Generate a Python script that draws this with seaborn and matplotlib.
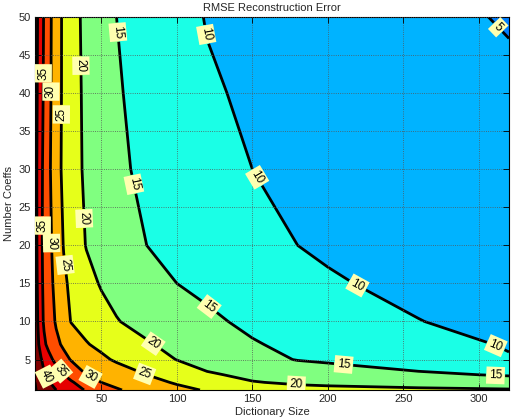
import matplotlib
matplotlib.use('Agg')
import matplotlib.pyplot as plt
from matplotlib.colors import ListedColormap, BoundaryNorm
import numpy as np
import seaborn as sns

sns.set_theme(style='white')
plt.rcParams['font.family'] = ['Liberation Sans', 'DejaVu Sans']

# grid
dict_size = [6, 8, 10, 12, 15, 20, 25, 30, 40, 50, 60, 80, 100, 120, 150, 180, 200, 260, 320]
n_coeffs = [1, 2, 3, 5, 7, 10, 15, 20, 30, 40, 50]
rmse = [
    [46.0, 43.3, 42.8, 42.2, 41.4, 40.0, 38.6, 37.2, 34.6, 32.5, 30.4, 28.2, 26.3, 24.6, 22.7, 20.9, 20.85, 20.7, 20.4],
    [45.0, 42.6, 41.9, 41.3, 40.3, 38.7, 37.1, 35.5, 32.7, 30.0, 28.9, 26.6, 24.5, 22.9, 20.15, 19.6, 19.3, 18.3, 17.3],
    [44.0, 42.1, 41.25, 40.4, 39.2, 37.1, 35.0, 33.3, 30.0, 28.75, 27.5, 25.0, 22.9, 20.4, 19.3, 18.3, 17.7, 15.8, 14.6],
    [43.3, 41.8, 40.3, 38.8, 36.5, 33.7, 31.5, 29.7, 27.8, 25.9, 24.4, 22.1, 19.9, 18.6, 16.6, 14.8, 14.2, 12.3, 10.3],
    [43.0, 40.6, 38.2, 35.8, 33.8, 31.1, 29.2, 27.9, 25.3, 23.9, 22.7, 20.4, 18.8, 17.4, 15.3, 14.1, 13.5, 11.4, 9.7],
    [42.8, 39.7, 36.6, 34.4, 32.5, 29.5, 27.0, 24.8, 23.3, 21.7, 20.2, 18.6, 17.1, 15.7, 14.2, 13.1, 12.3, 10.04, 9.45],
    [42.3, 39.2, 36.1, 34.0, 31.8, 28.6, 25.8, 24.1, 21.5, 19.6, 18.7, 16.9, 15.0, 14.1, 12.7, 11.2, 10.18, 9.55, 8.93],
    [42.0, 38.9, 35.8, 33.8, 31.4, 27.9, 24.8, 23.0, 19.8, 18.6, 17.4, 15.0, 14.0, 13.0, 11.5, 10.0, 9.76, 9.05, 8.33],
    [41.7, 38.9, 36.1, 33.8, 31.0, 26.9, 24.0, 22.0, 19.2, 17.5, 15.8, 14.1, 12.9, 11.8, 10.0, 9.5, 9.17, 8.17, 7.17],
    [42.0, 39.3, 36.7, 34.3, 31.3, 27.2, 24.1, 22.0, 19.0, 17.2, 15.4, 13.6, 12.0, 10.4, 9.49, 8.88, 8.47, 7.24, 6.02],
    [42.2, 39.6, 37.05, 34.6, 31.5, 27.3, 24.1, 21.8, 18.8, 16.9, 15.0, 13.1, 11.2, 9.83, 9.08, 8.34, 7.85, 6.36, 4.6],
]
levels = [0, 5, 10, 15, 20, 25, 30, 35, 40, 45, 50]
band_colors = [(0, 0.5, 1), (0, 0.7, 1), (0.1, 1, 0.9), (0.5, 1, 0.5), (0.9, 1, 0.1),
               (1, 0.7, 0), (1, 0.3, 0), (0.9, 0, 0), (0.5, 0, 0), (0.35, 0, 0)]
# where the inline labels sit
label_spots = [(60, 48), (113, 47.5), (311, 48.3), (11.3, 42.6), (16.5, 40.2), (23, 37.2),
               (34.5, 43.6), (66, 27.8), (152, 28.8), (10.5, 22.6), (16.5, 20.3), (24.5, 17.4),
               (35.5, 23.5), (118, 11.1), (219, 14.5), (81.7, 6.3), (310, 6.3), (210, 3.4),
               (311, 2.6), (179, 1.5), (77, 2.3), (42, 2.4), (20, 3), (10.3, 2.4)]

fig = plt.figure(figsize=(5.14, 4.2), dpi=100)
ax = fig.add_axes([35 / 514, 30 / 420, 474 / 514, 373 / 420])

cmap = ListedColormap(sns.color_palette(band_colors))
norm = BoundaryNorm(levels, cmap.N)
X, Y = np.meshgrid(dict_size, n_coeffs)
Z = np.array(rmse)
ax.contourf(X, Y, Z, levels=levels, cmap=cmap, norm=norm)
cs = ax.contour(X, Y, Z, levels=levels[1:-1], colors='black', linewidths=2)
txts = ax.clabel(cs, fmt='%d', fontsize=8.5, manual=label_spots, inline=True, inline_spacing=3)
for t in txts:
    t.set_bbox(dict(boxstyle='square,pad=0.22', facecolor='#ffffb0', edgecolor='none'))

ax.set_xlim(dict_size[0], dict_size[-1])
ax.set_ylim(n_coeffs[0], n_coeffs[-1])
ax.set_xticks([50, 100, 150, 200, 250, 300])
ax.set_yticks([5, 10, 15, 20, 25, 30, 35, 40, 45, 50])
ax.grid(True, linestyle=':', color='#555555', linewidth=0.6)
ax.set_axisbelow(False)
ax.tick_params(direction='in', top=True, right=True, bottom=True, left=True,
               length=4, width=0.6, color='black', labelsize=8, pad=3)
for s in ax.spines.values():
    s.set_color('black')
    s.set_linewidth(0.8)
ax.set_title('RMSE Reconstruction Error', fontsize=8, pad=4)
ax.set_xlabel('Dictionary Size', fontsize=8, labelpad=2)
ax.set_ylabel('Number Coeffs', fontsize=8, labelpad=3)

fig.savefig('out.png', dpi=100)
